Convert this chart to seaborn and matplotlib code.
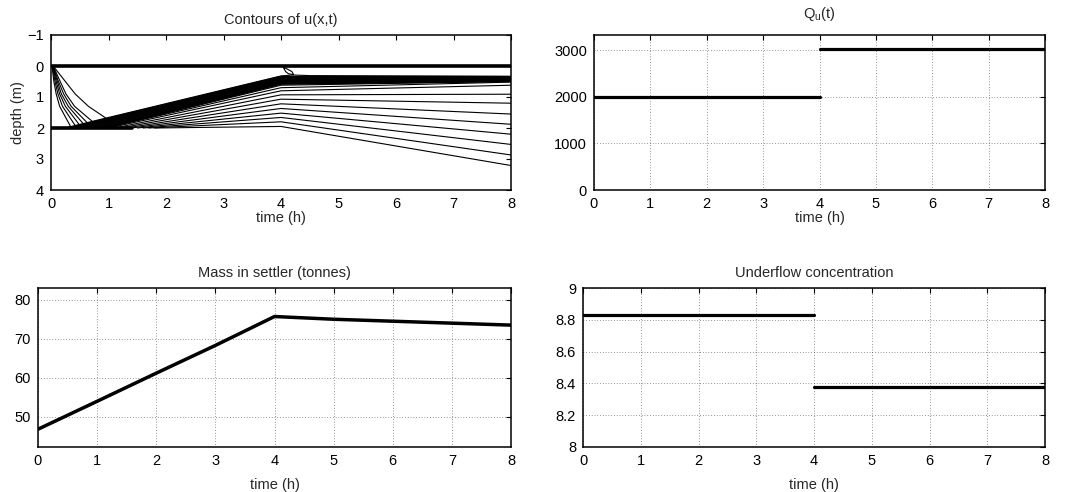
import matplotlib
matplotlib.use("Agg")
import matplotlib.pyplot as plt
import numpy as np
import pandas as pd
import seaborn as sns

# ---------------- data ----------------
# underflow flow rate Q_u(t): step change at t = 4 h
qu_t_before = [0.0, 4.0]
qu_t_after = [4.0, 8.0]
qu_before = 2000.0
qu_after = 3030.0

# underflow concentration
conc_before = 8.83
conc_after = 8.38

# mass in settler (tonnes)
mass_t = [0, 1, 2, 3, 4, 5, 6, 7, 8]
mass_tonnes = [46.85, 54.0, 61.2, 68.3, 75.7, 75.0, 74.5, 74.0, 73.5]

# contours of u(x,t): surface level and initial bed level
surface_t = [0.0, 8.0]
surface_depth = [0.0, 0.0]
bed_t = [0.0, 1.4]
bed_depth = [2.0, 2.0]

# expansion fan leaving the surface at t ~ 0
fan_t_top = [0.02, 0.025, 0.03, 0.035, 0.04, 0.045, 0.05]
fan_t_05 = [0.05, 0.07, 0.09, 0.11, 0.13, 0.16, 0.25]
fan_t_09 = [0.09, 0.12, 0.15, 0.18, 0.22, 0.26, 0.42]
fan_t_13 = [0.15, 0.20, 0.25, 0.30, 0.35, 0.41, 0.65]
fan_t_end = [0.34, 0.42, 0.49, 0.56, 0.63, 0.72, 0.97]
fan_d_end = [1.95, 1.92, 1.89, 1.86, 1.83, 1.79, 1.70]

# blanket front: crowded levels rising from the bed to t = 4 h
band_t_start = [0.24, 0.28, 0.32, 0.36, 0.40, 0.44, 0.48, 0.52, 0.56, 0.60,
                0.64, 0.68, 0.72, 0.76, 0.80, 0.84, 0.88, 0.91, 0.93, 0.95]
band_d_4h = [0.32, 0.335, 0.35, 0.365, 0.38, 0.395, 0.41, 0.425, 0.44, 0.455,
             0.47, 0.485, 0.50, 0.515, 0.53, 0.545, 0.56, 0.575, 0.59, 0.62]
band_d_8h = [0.33, 0.34, 0.35, 0.36, 0.37, 0.38, 0.39, 0.40, 0.41, 0.42,
             0.43, 0.44, 0.45, 0.46, 0.47, 0.475, 0.48, 0.49, 0.495, 0.50]
crest_t = [4.2, 4.5]
crest_d = [0.29, 0.31]

# levels inside the sediment
sed_t_start = [0.95, 1.0, 1.1, 1.2, 1.3, 1.4, 1.5, 1.6, 1.7, 1.8]
sed_d_4h = [0.70, 0.80, 0.93, 1.07, 1.22, 1.37, 1.52, 1.66, 1.80, 1.95]
sed_d_8h = [0.52, 0.62, 0.91, 1.20, 1.55, 1.88, 2.20, 2.53, 2.87, 3.21]

# small closed level near the surface at t ~ 4 h
loop_t = [4.04, 4.08, 4.13, 4.22, 4.19, 4.10, 4.04]
loop_d = [0.04, 0.18, 0.25, 0.28, 0.18, 0.09, 0.04]

# ---------------- long-form contour table ----------------
rows = []
lid = 0


def add_line(ts, ds):
    global lid
    for t, d in zip(ts, ds):
        rows.append({"t": t, "depth": d, "line": lid})
    lid += 1


for a, b, c, e, f, g in zip(fan_t_top, fan_t_05, fan_t_09, fan_t_13, fan_t_end, fan_d_end):
    add_line([a, b, c, e, f], [0.03, 0.5, 0.9, 1.3, g])
for i, (ts, d4, d8) in enumerate(zip(band_t_start, band_d_4h, band_d_8h)):
    if i == 0:
        add_line([ts, 4.0] + crest_t + [8.0], [2.0, d4] + crest_d + [d8])
    else:
        add_line([ts, 4.0, 8.0], [2.0, d4, d8])
for ts, d4, d8 in zip(sed_t_start, sed_d_4h, sed_d_8h):
    add_line([ts, 4.0, 8.0], [2.0, d4, d8])
add_line(loop_t, loop_d)
contours = pd.DataFrame(rows)

thick = pd.DataFrame({
    "t": surface_t + bed_t,
    "depth": surface_depth + bed_depth,
    "line": [0, 0, 1, 1],
})

qu_df = pd.DataFrame({
    "t": qu_t_before + qu_t_after,
    "Q": [qu_before] * 2 + [qu_after] * 2,
    "seg": [0, 0, 1, 1],
})
conc_df = pd.DataFrame({
    "t": qu_t_before + qu_t_after,
    "c": [conc_before] * 2 + [conc_after] * 2,
    "seg": [0, 0, 1, 1],
})
mass_df = pd.DataFrame({"t": mass_t, "m": mass_tonnes})

# ---------------- style ----------------
sns.set_style("white")
plt.rcParams.update({
    "font.family": ["Liberation Sans", "DejaVu Sans"],
    "font.size": 10.5,
    "axes.linewidth": 1.1,
    "axes.edgecolor": "black",
    "xtick.color": "black",
    "ytick.color": "black",
    "axes.titlesize": 10.5,
    "axes.labelsize": 10.5,
})

W, H = 1069, 492
fig = plt.figure(figsize=(W / 100, H / 100), dpi=100)


def axes_px(left, right, top, bottom):
    return fig.add_axes([left / W, (H - bottom) / H, (right - left) / W, (bottom - top) / H])


ax_u = axes_px(51, 511, 35, 190)
ax_q = axes_px(594, 1045, 35, 190)
ax_m = axes_px(38, 511, 288, 447)
ax_c = axes_px(583, 1045, 288, 447)

for ax in (ax_u, ax_q, ax_m, ax_c):
    ax.tick_params(direction="in", top=True, right=True, length=3.5, width=0.8,
                   pad=5, labelsize=10.5)
    ax.set_xlim(0, 8)
    ax.set_xticks(range(0, 9))

grid_kw = dict(color="black", linestyle=(0, (1, 3)), linewidth=0.5, alpha=0.8)

# contour panel
sns.lineplot(data=contours, x="t", y="depth", units="line", estimator=None,
             sort=False, color="black", linewidth=0.8, ax=ax_u)
sns.lineplot(data=thick, x="t", y="depth", units="line", estimator=None,
             sort=False, color="black", linewidth=2.6, ax=ax_u)
ax_u.set_ylim(4, -1)
ax_u.set_yticks([-1, 0, 1, 2, 3, 4])
ax_u.set_title("Contours of u(x,t)", pad=8)
ax_u.set_xlabel("time (h)", labelpad=0)
ax_u.set_ylabel("depth (m)", labelpad=2)

# Q_u panel
sns.lineplot(data=qu_df, x="t", y="Q", units="seg", estimator=None, sort=False,
             color="black", linewidth=2.3, ax=ax_q)
ax_q.set_ylim(0, 3330)
ax_q.set_yticks([0, 1000, 2000, 3000])
ax_q.grid(True, **grid_kw)
ax_q.set_title(r"Q$_\mathregular{u}$(t)", pad=12)
ax_q.set_xlabel("time (h)", labelpad=0)
ax_q.set_ylabel("")

# mass panel
sns.lineplot(data=mass_df, x="t", y="m", estimator=None, sort=False,
             color="black", linewidth=2.5, ax=ax_m)
ax_m.set_ylim(42.3, 83)
ax_m.set_yticks([50, 60, 70, 80])
ax_m.grid(True, **grid_kw)
ax_m.set_title("Mass in settler (tonnes)", pad=8)
ax_m.set_xlabel("time (h)", labelpad=7)
ax_m.set_ylabel("")

# underflow concentration panel
sns.lineplot(data=conc_df, x="t", y="c", units="seg", estimator=None, sort=False,
             color="black", linewidth=2.3, ax=ax_c)
ax_c.set_ylim(8, 9)
ax_c.set_yticks([8, 8.2, 8.4, 8.6, 8.8, 9])
ax_c.set_yticklabels(["8", "8.2", "8.4", "8.6", "8.8", "9"])
ax_c.grid(True, **grid_kw)
ax_c.set_title("Underflow concentration", pad=8)
ax_c.set_xlabel("time (h)", labelpad=7)
ax_c.set_ylabel("")

for ax in (ax_u, ax_q, ax_m, ax_c):
    for s in ax.spines.values():
        s.set_visible(True)
        s.set_zorder(5)

fig.savefig("out.png", dpi=100, facecolor="white")
